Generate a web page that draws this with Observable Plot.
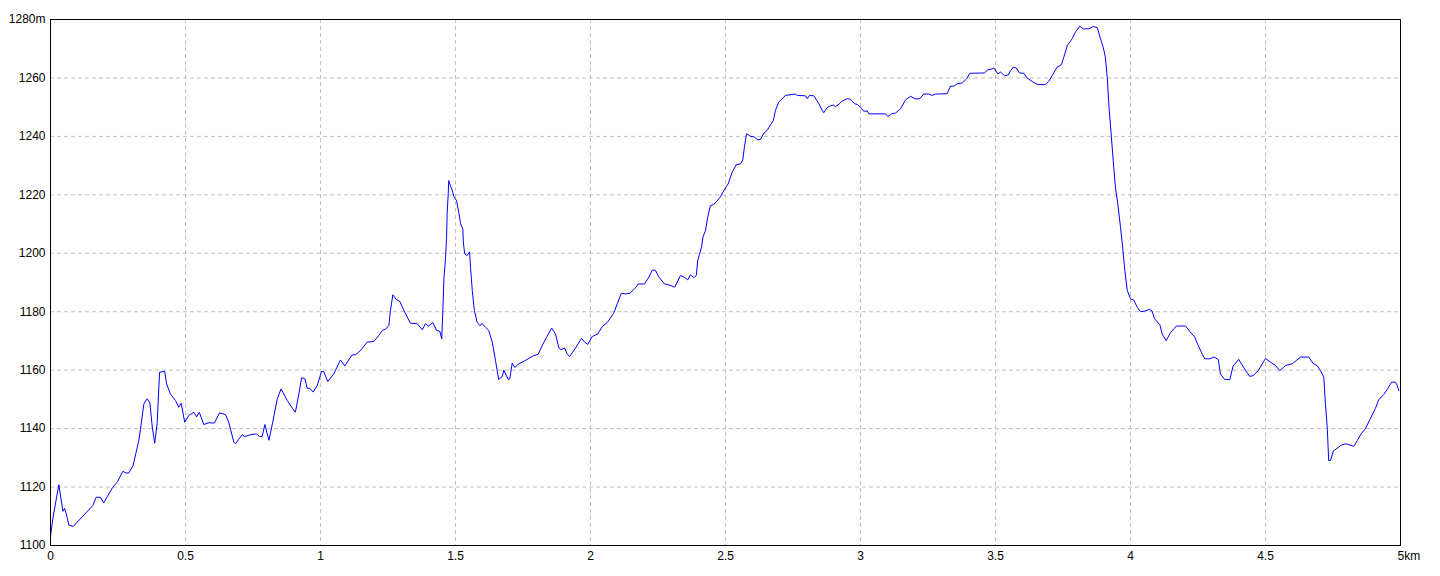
<!DOCTYPE html>
<html><head><meta charset="utf-8">
<script src="https://cdn.jsdelivr.net/npm/d3@7"></script>
<script src="https://cdn.jsdelivr.net/npm/@observablehq/plot@0.6"></script>
<style>html,body{margin:0;padding:0;background:#fff}svg{display:block}</style>
</head><body><div id="chart"></div>
<script>
const distanceKm = [0.000,0.004,0.010,0.031,0.046,0.052,0.058,0.068,0.084,0.157,0.169,0.185,0.197,0.229,0.249,0.268,0.280,0.290,0.306,0.327,0.333,0.346,0.358,0.368,0.377,0.386,0.395,0.404,0.423,0.430,0.444,0.463,0.475,0.484,0.497,0.512,0.531,0.541,0.551,0.568,0.586,0.607,0.626,0.648,0.660,0.679,0.685,0.697,0.710,0.719,0.741,0.763,0.774,0.784,0.794,0.809,0.823,0.840,0.854,0.877,0.897,0.907,0.920,0.930,0.942,0.951,0.960,0.973,0.988,1.004,1.012,1.027,1.049,1.074,1.090,1.117,1.130,1.148,1.173,1.197,1.216,1.229,1.241,1.253,1.259,1.268,1.281,1.294,1.309,1.333,1.358,1.377,1.389,1.399,1.416,1.430,1.442,1.449,1.454,1.457,1.463,1.467,1.469,1.473,1.475,1.481,1.488,1.494,1.504,1.512,1.519,1.527,1.529,1.534,1.543,1.552,1.556,1.559,1.562,1.570,1.580,1.590,1.599,1.611,1.623,1.636,1.648,1.660,1.673,1.679,1.695,1.701,1.710,1.720,1.734,1.753,1.769,1.790,1.806,1.821,1.837,1.856,1.870,1.883,1.891,1.904,1.914,1.923,1.944,1.967,1.978,1.990,2.006,2.027,2.043,2.062,2.086,2.099,2.114,2.130,2.146,2.167,2.177,2.200,2.216,2.229,2.241,2.253,2.274,2.290,2.312,2.333,2.348,2.360,2.370,2.383,2.392,2.397,2.404,2.411,2.417,2.426,2.434,2.444,2.457,2.469,2.481,2.494,2.510,2.525,2.540,2.556,2.564,2.570,2.578,2.593,2.607,2.620,2.630,2.642,2.654,2.667,2.677,2.685,2.697,2.710,2.722,2.743,2.759,2.766,2.796,2.803,2.811,2.827,2.846,2.858,2.864,2.877,2.889,2.901,2.907,2.920,2.932,2.951,2.963,2.978,2.988,3.000,3.012,3.025,3.031,3.093,3.101,3.115,3.130,3.148,3.167,3.185,3.204,3.220,3.234,3.253,3.266,3.278,3.321,3.333,3.346,3.358,3.377,3.393,3.405,3.459,3.472,3.488,3.494,3.509,3.519,3.533,3.547,3.556,3.566,3.577,3.589,3.605,3.617,3.636,3.654,3.685,3.697,3.710,3.728,3.744,3.753,3.766,3.784,3.796,3.812,3.825,3.846,3.862,3.877,3.889,3.899,3.907,3.914,3.920,3.929,3.936,3.944,3.953,3.963,3.971,3.979,3.988,4.000,4.012,4.025,4.037,4.052,4.070,4.080,4.089,4.109,4.117,4.132,4.148,4.170,4.204,4.220,4.238,4.251,4.265,4.275,4.294,4.309,4.325,4.333,4.349,4.368,4.380,4.401,4.420,4.441,4.454,4.473,4.500,4.519,4.537,4.553,4.574,4.599,4.630,4.660,4.677,4.691,4.704,4.716,4.722,4.729,4.734,4.741,4.751,4.766,4.778,4.796,4.809,4.827,4.840,4.854,4.870,4.889,4.907,4.919,4.938,4.953,4.967,4.981,4.988,4.994];
const elevationM = [1103,1106,1110,1120.8,1111.7,1112.7,1111,1107,1106.5,1113.7,1116.5,1116.5,1114.6,1119.7,1122,1125.4,1124.8,1124.8,1127.4,1135.9,1139.7,1148.5,1150.2,1148.8,1140.5,1135,1141.8,1159.3,1159.6,1155.3,1151.9,1149.6,1147.3,1148.7,1142.2,1144.5,1145.6,1144,1145.6,1141.4,1142,1141.9,1145.4,1144.8,1142.2,1135.4,1134.8,1136.3,1137.9,1137.3,1137.9,1138.2,1137.3,1137.3,1141.4,1136,1142.2,1150.2,1153.6,1149.6,1146.8,1145.6,1151.9,1157.4,1157.1,1153.8,1153.8,1152.5,1154.8,1159.6,1159.5,1156.1,1158.7,1163.5,1161.5,1165.2,1165.3,1166.7,1169.6,1169.8,1171.9,1173.6,1174,1175.3,1180.4,1185.8,1184.1,1183.5,1180.4,1176.1,1175.9,1173.8,1175.9,1175,1176.3,1173.6,1173.3,1170.7,1182.7,1191.3,1198.1,1205.5,1213.5,1220.3,1224.9,1223.2,1221.5,1219.4,1218,1214,1210.1,1208.4,1203.8,1199.8,1199.2,1200.5,1194.7,1191.3,1187.3,1180.4,1176.4,1175.3,1175.9,1174.7,1173.6,1169.6,1163.4,1156.8,1157.8,1160,1156.8,1157,1162.4,1160.9,1162.2,1163,1163.9,1165,1165.4,1168.4,1171.2,1174.4,1172.5,1167.6,1167,1167.6,1165.4,1164.7,1167.5,1170.9,1169.6,1168.8,1171.5,1172.4,1174.9,1176.3,1179.5,1182.7,1186.3,1186.1,1186.3,1188.2,1189.5,1189.5,1191.8,1194.3,1194.1,1191.9,1189.5,1189.2,1188.4,1192.4,1191.8,1190.9,1192.6,1191.7,1192.4,1197.5,1199.8,1202.1,1205.7,1207.8,1212.3,1216.3,1216.8,1217.9,1219.3,1221.5,1223.8,1227.8,1230.3,1230.6,1232,1236.3,1240.9,1240,1239.8,1238.8,1239,1241.1,1242,1244,1245.4,1248.9,1251.7,1252.9,1254,1254.3,1254.5,1254,1253.9,1252.9,1254,1253.9,1251.2,1248.9,1248.1,1249.9,1250.5,1250.7,1250.2,1251,1252.1,1252.9,1252.7,1251.2,1250.9,1250,1248.6,1248.7,1247.7,1247.7,1246.8,1247.7,1248,1249.4,1252.5,1253.7,1252.8,1252.9,1254.5,1254.5,1254,1254.5,1254.6,1257.2,1257.2,1258,1258.3,1259.7,1261.6,1261.7,1262.8,1263.1,1263.4,1261.4,1262,1260.8,1261,1262.5,1263.7,1263.4,1261.7,1261.6,1260,1258.8,1257.8,1257.7,1258.8,1260.8,1263.7,1264.5,1267.1,1271.1,1273.4,1275.7,1277.7,1276.8,1276.8,1277.6,1277.2,1273.4,1270.5,1267.1,1260,1250.5,1240,1231.7,1222.6,1216.9,1208.9,1202.1,1194.1,1187.3,1184.4,1184,1181.5,1180,1180.2,1180.8,1180.2,1177.6,1175.5,1172.4,1170.1,1172.8,1175.1,1175.1,1173.2,1171.3,1168.4,1165.6,1163.9,1163.9,1164.5,1163.7,1158.7,1156.8,1156.8,1161.4,1163.7,1160.8,1157.9,1158.1,1159.8,1164,1162.7,1161.6,1159.8,1161.6,1162.2,1164.5,1164.5,1162.2,1161.6,1159.8,1157.5,1148.5,1139.7,1129.1,1129.1,1132.3,1133.3,1134.2,1134.8,1134.5,1133.9,1135.9,1138.2,1140,1143.5,1146.9,1149.8,1151.7,1153.7,1155.9,1155.9,1154.8,1153];
const xTicks = [0,0.5,1,1.5,2,2.5,3,3.5,4,4.5,5];
const xTickLabels = ["0","0.5","1","1.5","2","2.5","3","3.5","4","4.5","5km"];
const yTicks = [1100,1120,1140,1160,1180,1200,1220,1240,1260,1280];
const yTickLabels = ["1100","1120","1140","1160","1180","1200","1220","1240","1260","1280m"];

const profile = distanceKm.map((d, i) => ({d, e: elevationM[i]}));
const xLabel = new Map(xTicks.map((t, i) => [t, xTickLabels[i]]));
const yLabel = new Map(yTicks.map((t, i) => [t, yTickLabels[i]]));
const gridStyle = {stroke: "#c0c0c0", strokeOpacity: 1, strokeWidth: 1, strokeDasharray: "4,3"};

const chart = Plot.plot({
  width: 1440,
  height: 576,
  marginLeft: 50,
  marginRight: 40,
  marginTop: 19,
  marginBottom: 31,
  style: {fontFamily: "'Liberation Sans', Arial, sans-serif", fontSize: "12px", background: "#fff", color: "#000"},
  x: {domain: [0, 5], label: null},
  y: {domain: [1100, 1280], label: null},
  marks: [
    Plot.gridX(xTicks.slice(1, -1), gridStyle),
    Plot.gridY(yTicks.slice(1, -1), gridStyle),
    Plot.line(profile, {x: "d", y: "e", stroke: "#0000ff", strokeWidth: 1}),
    Plot.frame({stroke: "#000", strokeWidth: 1}),
    Plot.axisY(yTicks, {label: null, tickSize: 0, tickPadding: 5, tickFormat: (t) => yLabel.get(t), fill: "#000"}),
    Plot.axisX(xTicks.slice(0, -1), {label: null, tickSize: 0, tickPadding: 6, tickFormat: (t) => xLabel.get(t), fill: "#000"}),
    Plot.axisX([5], {label: null, tickSize: 0, tickPadding: 6, tickFormat: (t) => xLabel.get(t), textAnchor: "start", dx: -3, fill: "#000"})
  ]
});
document.getElementById("chart").appendChild(chart);
</script>
</body></html>
